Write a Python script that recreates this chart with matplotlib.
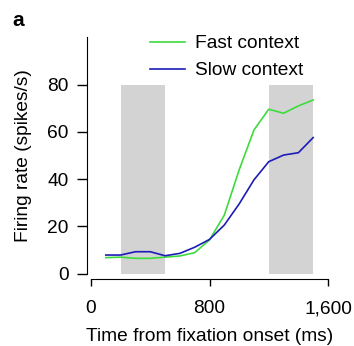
import matplotlib
matplotlib.use("Agg")
import matplotlib.pyplot as plt

# time bins (ms) and mean firing rates (spikes/s)
time_ms = [100, 200, 300, 400, 500, 600, 700, 800, 900, 1000, 1100, 1200, 1300, 1400, 1500]
fast_rate = [6.8, 7.0, 6.5, 6.5, 7.0, 7.5, 8.9, 14.3, 24.8, 43.9, 60.8, 69.6, 67.9, 71.0, 73.5]
slow_rate = [7.9, 7.9, 9.3, 9.3, 7.6, 8.6, 11.2, 14.5, 20.6, 29.5, 39.7, 47.4, 50.2, 51.2, 57.6]

# shaded analysis windows (ms)
windows = [(200, 500), (1200, 1500)]
window_top = 80

x_ticks = [0, 800, 1600]
x_tick_labels = ["0", "800", "1,600"]
y_ticks = [0, 20, 40, 60, 80]


def main() -> None:
    plt.rcParams["font.family"] = ["Liberation Sans", "DejaVu Sans"]
    plt.rcParams["font.size"] = 13.8

    fig = plt.figure(figsize=(3.54, 3.46), dpi=100)
    ax = fig.add_axes([91 / 354, 72.3 / 346, 237 / 354, 236.3 / 346])

    for start, end in windows:
        ax.fill_between([start, end], 0, window_top, color="#d3d3d3", lw=0, zorder=0)

    ax.plot(time_ms, fast_rate, color="#3ddc3d", lw=1.2, label="Fast context")
    ax.plot(time_ms, slow_rate, color="#1c1cb8", lw=1.2, label="Slow context")

    ax.set_xlim(0, 1600)
    ax.set_ylim(0, 100)
    ax.set_xticks(x_ticks)
    ax.set_xticklabels(x_tick_labels)
    ax.set_yticks(y_ticks)

    for side in ["top", "right"]:
        ax.spines[side].set_visible(False)
    ax.spines["left"].set_position(("outward", 3))
    ax.spines["bottom"].set_position(("outward", 4))
    ax.spines["left"].set_bounds(0, 100)
    ax.spines["bottom"].set_bounds(0, 1600)
    ax.tick_params(axis="y", length=7, width=1, pad=6)
    ax.tick_params(axis="x", length=5, width=1, pad=10)

    ax.set_xlabel("Time from fixation onset (ms)", labelpad=8)
    ax.set_ylabel("Firing rate (spikes/s)", labelpad=11)

    fig.legend(*ax.get_legend_handles_labels(), loc="upper left",
               bbox_to_anchor=(150 / 354, 1 - 35 / 346), frameon=False,
               handlelength=1.85, handletextpad=0.5, labelspacing=0.5,
               borderaxespad=0, borderpad=0)

    fig.text(12 / 354, 1 - 26 / 346, "a", fontsize=15, fontweight="bold")

    fig.savefig("out.png", dpi=100)


if __name__ == "__main__":
    main()
